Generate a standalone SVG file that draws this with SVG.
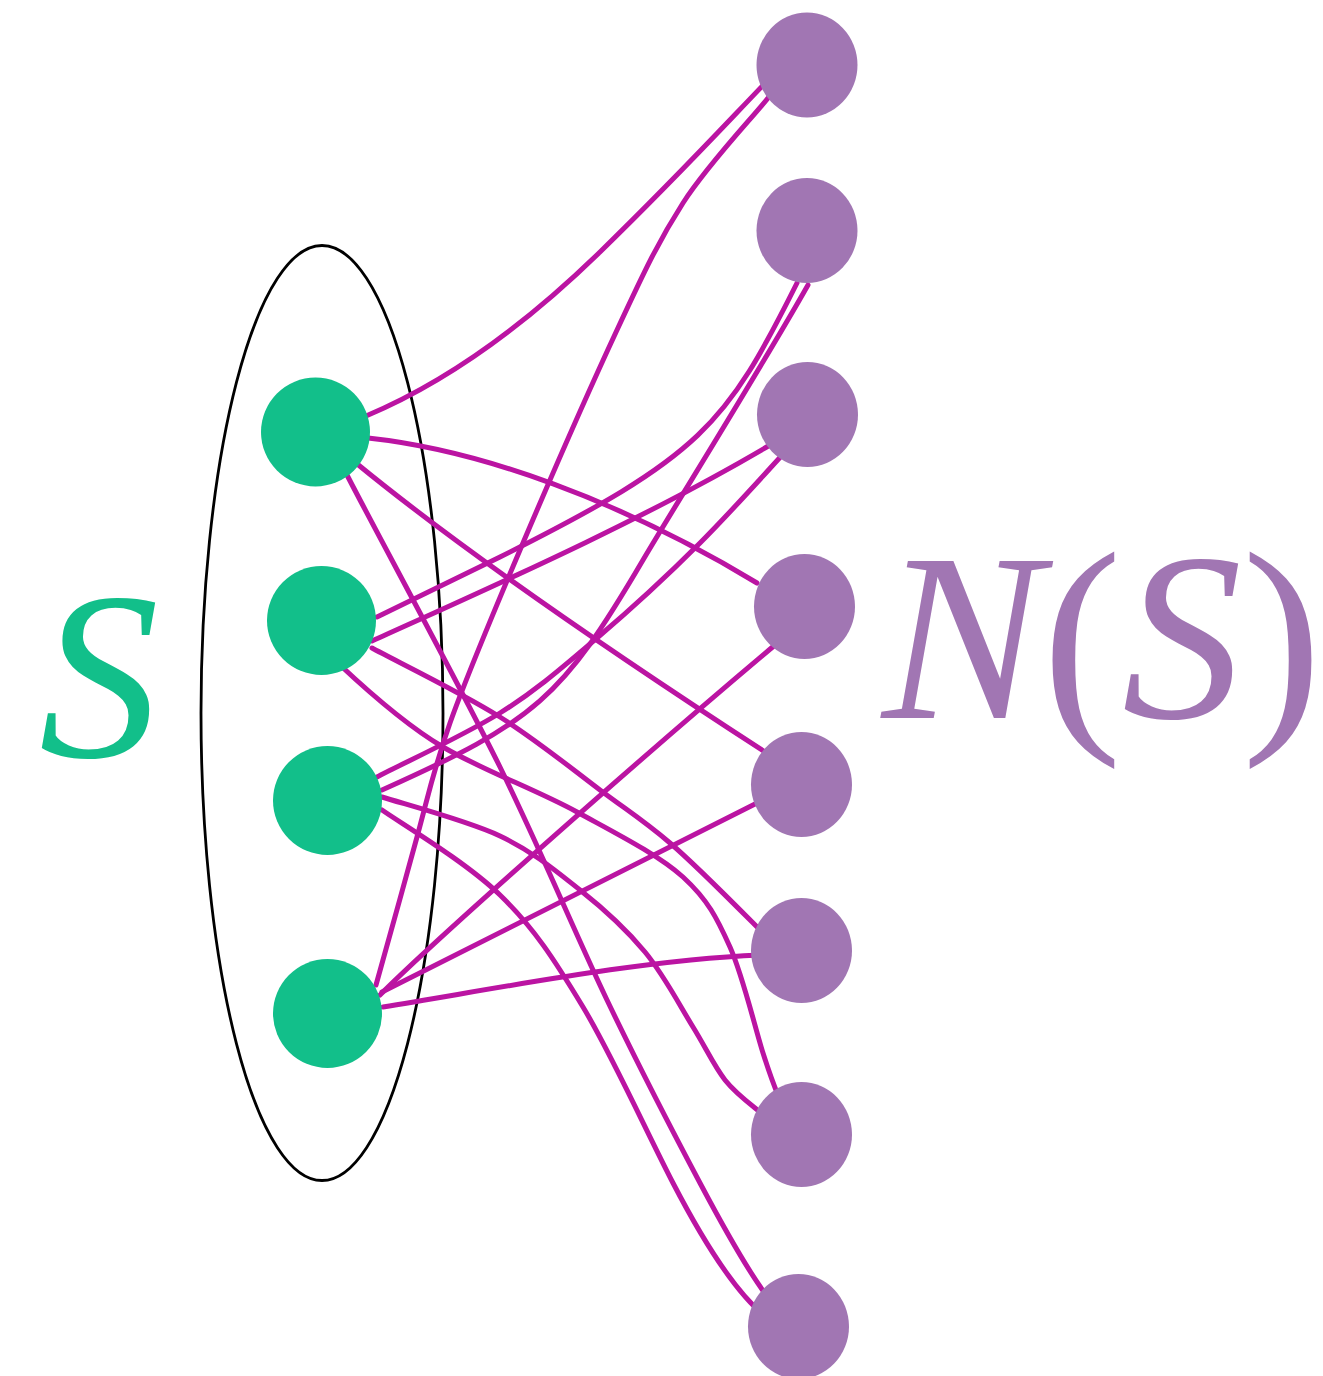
<svg xmlns="http://www.w3.org/2000/svg" width="1323" height="1376" viewBox="0 0 1323 1376">
  <style>
    .edge { fill: none; stroke: #bb14a2; stroke-width: 5; stroke-linecap: round; }
    .left { fill: #12bf8a; }
    .right { fill: #a176b3; }
    .label { font-family: "Liberation Serif", "Times New Roman", serif; font-size: 240px; }
    .it { font-style: italic; }
  </style>
  <rect width="1323" height="1376" fill="#ffffff"/>

  <!-- the set S -->
  <ellipse id="set-s" cx="322" cy="713" rx="121" ry="467.5" fill="none" stroke="#000000" stroke-width="2.8"/>

  <g id="connectors">
    <!-- from upper left vertex -->
    <path class="edge" d="M366,416 C440,385 520,330 600,252 C680,174 720,130 770,78"/>
    <path class="edge" d="M368,438 C480,450 620,500 757,583"/>
    <path class="edge" d="M356,463 C450,540 600,645 765,752"/>
    <path class="edge" d="M347,475 C372,524 457,680 500,767 C543,855 574,931 607,1000 C640,1069 674,1134 700,1183 C726,1232 750,1275 770,1300"/>
    <!-- from second vertex -->
    <path class="edge" d="M377,617 L500,557 C702,456 726,425 797,283"/>
    <path class="edge" d="M372,641 C480,592 640,522 770,445"/>
    <path class="edge" d="M372,648 C393,659.5 462,693 500,717 C538,741 572,769 600,790 C628,811 643,820 670,843 C697,866 745,915 760,930"/>
    <path class="edge" d="M340,665 C356,680 404,724 443,747 C482,770 537,790 577,812 C617,834 657,854 683,877 C708,900 717,918 730,947 C743,976 755,1028 763,1053 C771,1078 775,1088 778,1095"/>
    <!-- from third vertex -->
    <path class="edge" d="M382,790 C536,721 562,698 643,560 C673,509 760,370 808,285"/>
    <path class="edge" d="M377,777 C397.5,766 463,736 500,713 C537,690 564,666 597,638 C630,610 669,574 700,543 C731,512 771,467 785,452"/>
    <path class="edge" d="M382,797 C402,803.5 467,820.5 500,836 C533,851.5 556,871 580,890 C604,909 626,929 645,952 C664,975 680,1006 693,1027 C706,1048 714,1066 725,1080 C736,1094 754,1107 760,1112"/>
    <path class="edge" d="M382,810 C402,824 466,862 500,895 C534,928 554,959 583,1007 C612,1055 648,1135 673,1183 C700,1235 735,1295 770,1320"/>
    <!-- from lower vertex -->
    <path class="edge" d="M376,985 C383,960 405,881 417,837 C429,793 433,771 450,723 C467,675 492,616 520,550 C548,484 590,388 617,330 C644,272 658,242 683,203 C708,164 754,116 768,98"/>
    <path class="edge" d="M380,995 C440,935 650,750 775,645"/>
    <path class="edge" d="M382,992 L757,803"/>
    <path class="edge" d="M383,1007 C500,988 640,960 760,955"/>
  </g>

  <g id="node-s1"><circle class="left" cx="315.5" cy="432" r="54.5"/></g>
  <g id="node-s2"><circle class="left" cx="321.5" cy="620.5" r="54.5"/></g>
  <g id="node-s3"><circle class="left" cx="327.5" cy="800.5" r="54.5"/></g>
  <g id="node-s4"><circle class="left" cx="327.5" cy="1013.5" r="54.5"/></g>

  <g id="node-n1"><ellipse class="right" cx="807" cy="65" rx="50.5" ry="52.5"/></g>
  <g id="node-n2"><ellipse class="right" cx="807" cy="230.5" rx="50.5" ry="52.5"/></g>
  <g id="node-n3"><ellipse class="right" cx="807.5" cy="414.5" rx="50.5" ry="52.5"/></g>
  <g id="node-n4"><ellipse class="right" cx="804.5" cy="606.5" rx="50.5" ry="52.5"/></g>
  <g id="node-n5"><ellipse class="right" cx="801.5" cy="784.5" rx="50.5" ry="52.5"/></g>
  <g id="node-n6"><ellipse class="right" cx="801.5" cy="950.5" rx="50.5" ry="52.5"/></g>
  <g id="node-n7"><ellipse class="right" cx="801.5" cy="1134.5" rx="50.5" ry="52.5"/></g>
  <g id="node-n8"><ellipse class="right" cx="798.5" cy="1326.5" rx="50.5" ry="52.5"/></g>

  <g id="label-s"><text class="label it" x="39" y="757" fill="#12bf8a">S</text></g>
  <g id="label-ns">
    <text class="label" x="882" y="718" fill="#a176b3"><tspan class="it">N</tspan>(<tspan class="it">S</tspan>)</text>
  </g>
</svg>
